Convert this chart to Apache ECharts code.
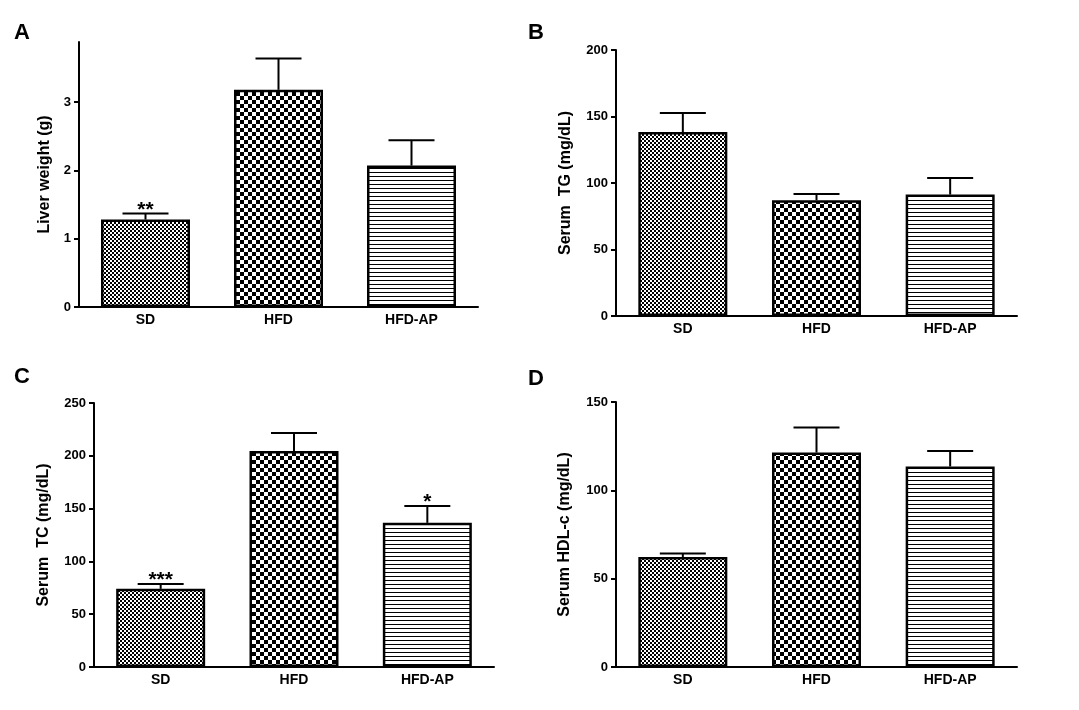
<!DOCTYPE html>
<html>
<head>
<meta charset="utf-8">
<script src="https://cdn.jsdelivr.net/npm/echarts@6/dist/echarts.min.js"></script>
<style>html,body{margin:0;padding:0;background:#fff;}#c{width:1079px;height:710px;}</style>
</head>
<body>
<div id="c"></div>
<script>
// ---- data ----
const categories = ['SD', 'HFD', 'HFD-AP'];

const liverWeight = [1.28, 3.18, 2.07];
const liverWeightErr = [0.09, 0.46, 0.37];
const liverWeightStars = ['**', '', ''];
const liverTicks = [0, 1, 2, 3];
const liverMax = 3.88;

const serumTG = [138.3, 87.0, 91.3];
const serumTGErr = [14.3, 4.7, 12.5];
const serumTGStars = ['', '', ''];
const tgTicks = [0, 50, 100, 150, 200];
const tgMax = 200;

const serumTC = [74.0, 204.5, 136.5];
const serumTCErr = [4.7, 17.0, 16.0];
const serumTCStars = ['***', '', '*'];
const tcTicks = [0, 50, 100, 150, 200, 250];
const tcMax = 250;

const serumHDL = [62.2, 121.4, 113.5];
const serumHDLErr = [2.0, 14.1, 8.8];
const serumHDLStars = ['', '', ''];
const hdlTicks = [0, 50, 100, 150];
const hdlMax = 150;

const panelLetters = ['A', 'B', 'C', 'D'];
const yTitles = ['Liver weight (g)', 'Serum  TG (mg/dL)', 'Serum  TC (mg/dL)', 'Serum HDL-c (mg/dL)'];

// ---- patterns ----
function makePattern(w, h, draw) {
  const cv = document.createElement('canvas');
  cv.width = w; cv.height = h;
  const ctx = cv.getContext('2d');
  ctx.fillStyle = '#fff'; ctx.fillRect(0, 0, w, h);
  ctx.fillStyle = '#000';
  draw(ctx);
  return { image: cv, repeat: 'repeat' };
}
const fineChecker = makePattern(4, 4, c => { c.fillRect(0, 0, 2, 2); c.fillRect(2, 2, 2, 2); });
const coarseChecker = makePattern(8, 8, c => { c.fillRect(0, 0, 4, 4); c.fillRect(4, 4, 4, 4); });
const hLines = makePattern(4, 4, c => { c.fillRect(0, 0, 4, 1); });
const patterns = [fineChecker, coarseChecker, hLines];

// ---- layout ----
const FONT = 'Arial, "Liberation Sans", sans-serif';
const panels = [
  { vals: liverWeight, err: liverWeightErr, stars: liverWeightStars, ticks: liverTicks, max: liverMax,
    grid: { left: 79, top: 42, width: 399, height: 265 }, nameGap: 26 },
  { vals: serumTG, err: serumTGErr, stars: serumTGStars, ticks: tgTicks, max: tgMax,
    grid: { left: 616, top: 50, width: 401, height: 266 }, nameGap: 42 },
  { vals: serumTC, err: serumTCErr, stars: serumTCStars, ticks: tcTicks, max: tcMax,
    grid: { left: 94, top: 403, width: 400, height: 264 }, nameGap: 42 },
  { vals: serumHDL, err: serumHDLErr, stars: serumHDLStars, ticks: hdlTicks, max: hdlMax,
    grid: { left: 616, top: 402, width: 401, height: 265 }, nameGap: 43 }
];
const letterPos = [[14, 22], [528, 22], [14, 366], [528, 368]];

const grids = [], xAxes = [], yAxes = [], series = [], graphics = [];
panels.forEach((p, i) => {
  grids.push(Object.assign({}, p.grid));
  xAxes.push({
    type: 'category', gridIndex: i, data: categories,
    axisLine: { lineStyle: { color: '#000', width: 2 } },
    axisTick: { show: false },
    axisLabel: { color: '#000', fontWeight: 'bold', fontSize: 14, fontFamily: FONT, margin: 6 }
  });
  yAxes.push({
    type: 'value', gridIndex: i, min: 0, max: p.max,
    name: yTitles[i], nameLocation: 'middle', nameGap: p.nameGap,
    nameTextStyle: { color: '#000', fontWeight: 'bold', fontSize: 16, fontFamily: FONT },
    splitLine: { show: false },
    axisLine: { show: true, lineStyle: { color: '#000', width: 2 } },
    axisTick: { show: true, length: 5, lineStyle: { color: '#000', width: 2 }, customValues: p.ticks },
    axisLabel: { color: '#000', fontWeight: 'bold', fontSize: 13, fontFamily: FONT, margin: 8, customValues: p.ticks }
  });
  series.push({
    type: 'bar', xAxisIndex: i, yAxisIndex: i, barWidth: 89,
    data: p.vals.map((v, k) => ({ value: v, itemStyle: { color: patterns[k], borderColor: '#000', borderWidth: 2.5 } })),
    z: 2
  });
  series.push({
    type: 'custom', xAxisIndex: i, yAxisIndex: i, z: 3,
    data: p.vals.map((v, k) => [k, v, p.err[k], k]),
    renderItem: (params, api) => {
      const x = api.value(0), v = api.value(1), e = api.value(2);
      const star = p.stars[api.value(3)];
      const top = api.coord([x, v]);
      const cap = api.coord([x, v + e]);
      const children = [
        { type: 'line', shape: { x1: top[0], y1: top[1], x2: cap[0], y2: cap[1] }, style: { stroke: '#000', lineWidth: 2 } },
        { type: 'line', shape: { x1: cap[0] - 23, y1: cap[1], x2: cap[0] + 23, y2: cap[1] }, style: { stroke: '#000', lineWidth: 2 } }
      ];
      if (star) {
        children.push({ type: 'text', style: { text: star, x: cap[0], y: cap[1] + 7, align: 'center', verticalAlign: 'bottom',
          font: 'bold 21px ' + FONT, fill: '#000' } });
      }
      return { type: 'group', children };
    }
  });
  graphics.push({ type: 'text', left: letterPos[i][0], top: letterPos[i][1],
    style: { text: panelLetters[i], font: 'bold 22px ' + FONT, fill: '#000' } });
});

const chart = echarts.init(document.getElementById('c'), null, { renderer: 'canvas' });
chart.setOption({
  backgroundColor: '#fff',
  animation: false,
  grid: grids, xAxis: xAxes, yAxis: yAxes, series, graphic: graphics
});
</script>
</body>
</html>
